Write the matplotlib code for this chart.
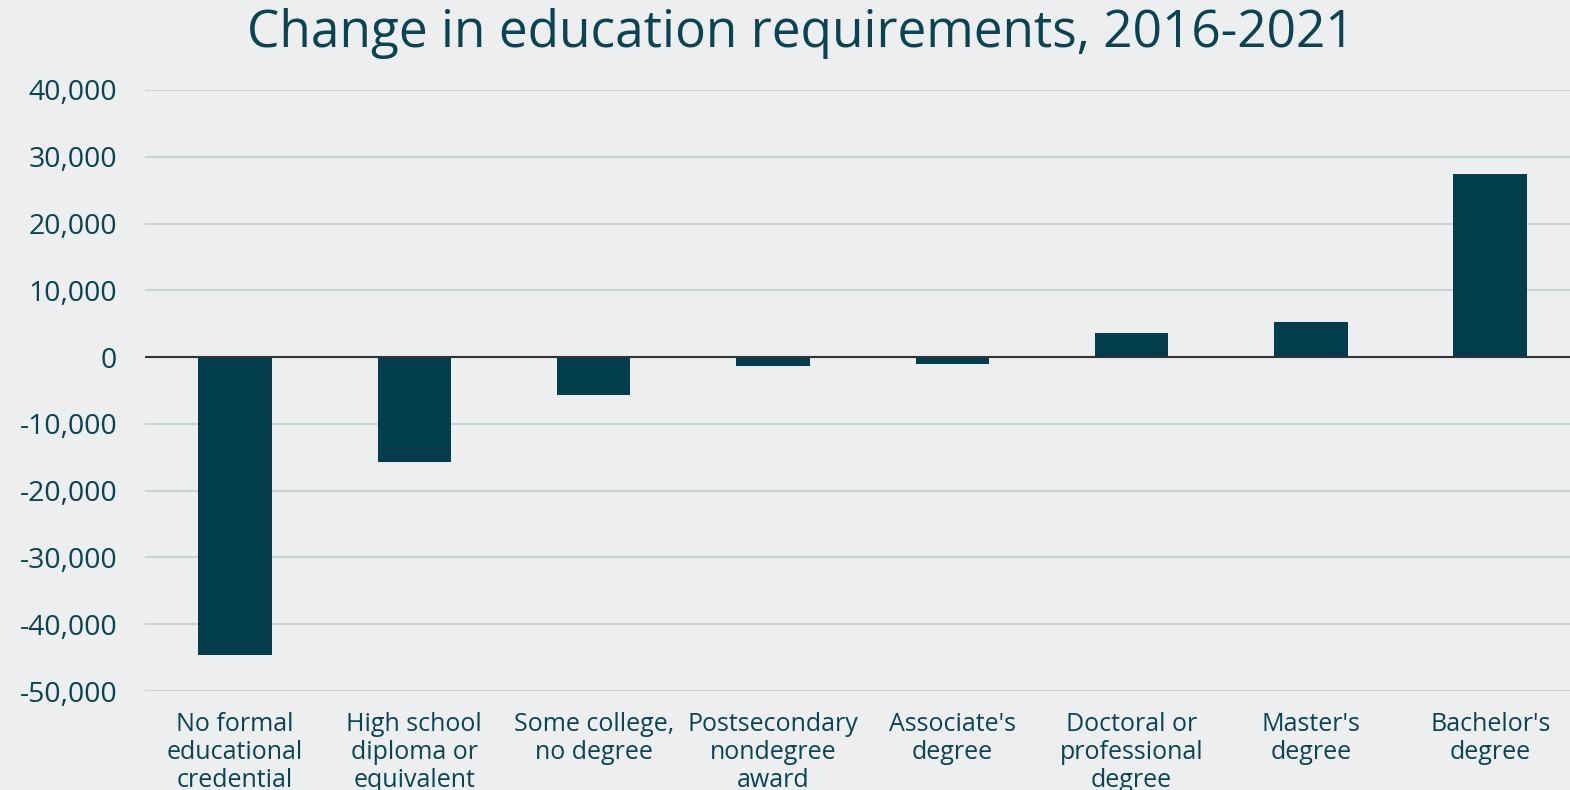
from matplotlib import pyplot as plt
from matplotlib.ticker import FuncFormatter
import numpy as np

categories = ["No formal\neducational\ncredential", "High school\ndiploma or\nequivalent",
              "Some college,\nno degree", "Postsecondary\nnondegree\naward",
              "Associate's\ndegree", "Doctoral or\nprofessional\ndegree",
              "Master's\ndegree", "Bachelor's\ndegree"]
change = [-44600, -15700, -5700, -1300, -1000, 3600, 5300, 27400]
yticks = [40000, 30000, 20000, 10000, 0, -10000, -20000, -30000, -40000, -50000]

bg = '#eceef0'
teal = '#033d4b'
text_col = '#0b4352'

plt.rcParams['font.family'] = ['Open Sans', 'DejaVu Sans']

fig = plt.figure(figsize=(15.7, 7.9), dpi=100, facecolor=bg)
ax = fig.add_axes([145/1570, 1-691/790, 1-145/1570, 601/790])
ax.set_facecolor(bg)

x = np.arange(len(categories))
ax.bar(x, change, width=0.41, color=teal, zorder=3)
ax.axhline(0, color='#333333', linewidth=1.5, zorder=4)

ax.set_ylim(-50000, 40000)
ax.set_xlim(-0.502, 7.445)
ax.set_yticks(yticks)
ax.yaxis.set_major_formatter(FuncFormatter(lambda v, p: "{:,.0f}".format(v)))
ax.grid(axis='y', color='#c7d3d4', linewidth=1.5, zorder=0)
ax.set_xticks(x)
ax.set_xticklabels(categories, fontsize=18, color=text_col, linespacing=1.15, va='top')
ax.tick_params(axis='y', labelsize=20.5, colors=text_col, length=0, pad=20)
ax.tick_params(axis='x', length=0, pad=15)
for s in ax.spines.values():
    s.set_visible(False)

fig.text(801/1570, 0.958, "Change in education requirements, 2016-2021", ha='center', va='center',
         fontsize=37, color=text_col)

fig.savefig("out.png", dpi=100, facecolor=bg)
